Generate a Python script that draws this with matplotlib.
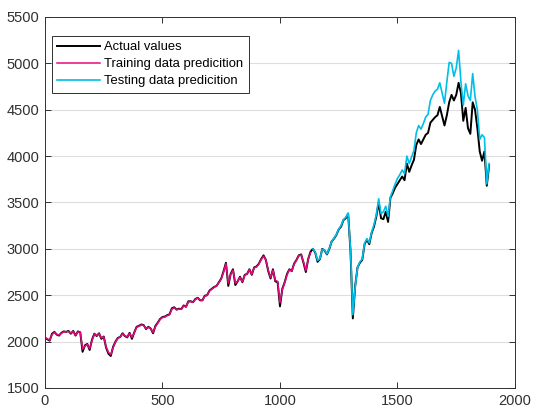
import numpy as np
import matplotlib
matplotlib.use("Agg")
import matplotlib.pyplot as plt

# daily index values sampled every 10 days
actual_values = [
    2040, 2025, 2010, 2085, 2105, 2075, 2065, 2095, 2110, 2105,
    2115, 2085, 2115, 2065, 2110, 2100, 1890, 1960, 1975, 1910,
    2020, 2085, 2060, 2090, 2030, 2055, 1935, 1870, 1845, 1945,
    2000, 2040, 2050, 2090, 2060, 2045, 2095, 2030, 2100, 2160,
    2170, 2185, 2178, 2135, 2160, 2140, 2090, 2170, 2205, 2245,
    2265, 2270, 2285, 2295, 2360, 2370, 2345, 2355, 2350, 2390,
    2375, 2435, 2435, 2425, 2460, 2472, 2445, 2445, 2495, 2500,
    2550, 2570, 2590, 2600, 2640, 2680, 2760, 2850, 2600, 2730,
    2780, 2610, 2650, 2700, 2640, 2720, 2730, 2780, 2720, 2800,
    2810, 2840, 2890, 2930, 2880, 2760, 2680, 2780, 2650, 2640,
    2380, 2570, 2640, 2730, 2780, 2760, 2840, 2880, 2930, 2940,
    2850, 2750, 2890, 2970, 3000, 2960, 2860, 2890, 3000, 2980,
    2940, 3000, 3080, 3110, 3150, 3210, 3240, 3310, 3330, 3380,
    2980, 2250, 2600, 2800, 2850, 2880, 3050, 3100, 3050, 3170,
    3240, 3350, 3500, 3330, 3320, 3400, 3290, 3550, 3600, 3660,
    3700, 3740, 3780, 3740, 3920, 3830, 3900, 3960, 4120, 4180,
    4130, 4180, 4230, 4250, 4360, 4390, 4420, 4440, 4530, 4430,
    4330, 4440, 4580, 4660, 4600, 4660, 4790, 4680, 4380, 4520,
    4300, 4240, 4580, 4500, 4300, 4050, 3950, 4050, 3680, 3900,
]

train_pred = [
    2045, 2030, 2015, 2075, 2100, 2080, 2070, 2090, 2105, 2105,
    2110, 2090, 2110, 2070, 2105, 2100, 1920, 1950, 1970, 1925,
    2010, 2080, 2065, 2085, 2040, 2050, 1945, 1885, 1860, 1935,
    1995, 2035, 2050, 2085, 2065, 2050, 2090, 2045, 2095, 2155,
    2165, 2180, 2175, 2140, 2155, 2140, 2100, 2160, 2200, 2240,
    2260, 2265, 2280, 2290, 2350, 2365, 2345, 2350, 2350, 2385,
    2375, 2430, 2430, 2425, 2455, 2470, 2450, 2445, 2490, 2500,
    2545, 2565, 2585, 2600, 2635, 2675, 2750, 2840, 2630, 2720,
    2770, 2630, 2650, 2695, 2645, 2715, 2730, 2775, 2725, 2795,
    2805, 2835, 2885, 2920, 2880, 2770, 2690, 2770, 2660, 2650,
    2420, 2560, 2635, 2720, 2775, 2760, 2835, 2875, 2925, 2935,
    2860, 2765, 2885, 2960,
]

test_pred = [
    3000, 2965, 2875, 2895, 2995, 2985,
    2945, 3005, 3080, 3115, 3155, 3215, 3250, 3315, 3340, 3385,
    3000, 2290, 2590, 2800, 2860, 2890, 3060, 3110, 3065, 3180,
    3260, 3370, 3540, 3380, 3400, 3460, 3350, 3560, 3630, 3700,
    3760, 3800, 3850, 3810, 4000, 3920, 3990, 4060, 4250, 4330,
    4290, 4350, 4420, 4450, 4600, 4660, 4700, 4720, 4790, 4680,
    4570, 4800, 5010, 5000, 4860, 4950, 5140, 4800, 4550, 4780,
    4650, 4600, 4890, 4640, 4500, 4180, 4230, 4200, 3700, 3920,
]

step = 10
x_all = np.arange(len(actual_values)) * step
x_train = np.arange(len(train_pred)) * step
x_test = x_train[-1] + step + np.arange(len(test_pred)) * step

plt.rcParams['font.family'] = ['Liberation Sans', 'DejaVu Sans']

fig = plt.figure(figsize=(5.33, 4.18), dpi=100)
ax = fig.add_axes([0.0844, 0.0718, 0.8818, 0.8876])

ax.plot(x_all, actual_values, color='black', lw=1.4, label='Actual values')
ax.plot(x_train, train_pred, color='#e8087f', lw=1.1, label='Training data predicition')
ax.plot(x_test, test_pred, color='#00bfe8', lw=1.2, label='Testing data predicition')

ax.set_xlim(0, 2000)
ax.set_ylim(1500, 5500)
ax.set_xticks([0, 500, 1000, 1500, 2000])
ax.set_yticks(np.arange(1500, 5501, 500))
ax.yaxis.grid(True, color='#dedede', lw=0.8)
ax.set_axisbelow(True)
ax.tick_params(direction='in', top=True, right=True, length=4, width=0.7,
               colors='#303030', labelsize=10.5, pad=4)
for s in ax.spines.values():
    s.set_color('#303030')
    s.set_linewidth(0.7)

leg = ax.legend(loc='upper left', bbox_to_anchor=(0.0149, 0.949), borderaxespad=0,
                fontsize=9.4, handlelength=3.3, labelspacing=0.38, borderpad=0.4,
                handletextpad=0.3, fancybox=False, framealpha=1)
leg.get_frame().set_edgecolor('#303030')
leg.get_frame().set_linewidth(0.7)

fig.savefig('out.png', dpi=100)
